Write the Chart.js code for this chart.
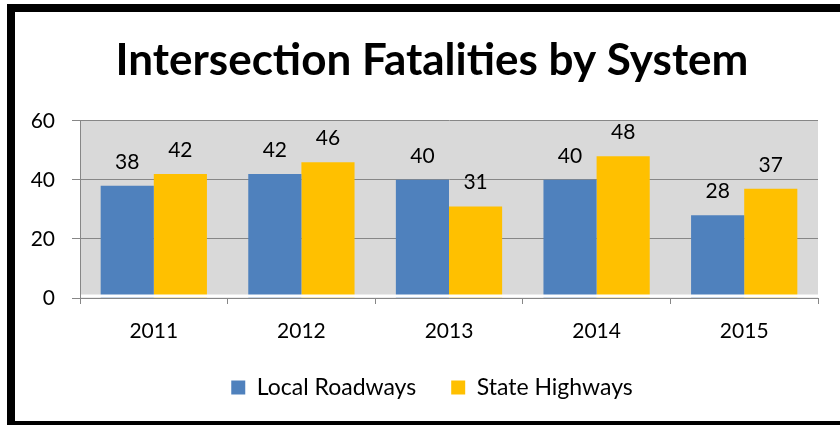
<!DOCTYPE html>
<html>
<head>
<meta charset="utf-8">
<script src="https://cdn.jsdelivr.net/npm/chart.js@4/dist/chart.umd.min.js"></script>
<style>
  html, body { margin: 0; padding: 0; background: #fff; }
  body { width: 840px; height: 425px; overflow: hidden; position: relative; }
  #frame {
    position: absolute; left: 7px; top: 4px;
    border: 8px solid #000; border-right: none;
    width: 834px; height: 409px;
  }
</style>
</head>
<body>
<div id="frame"><canvas id="chart" width="834" height="409"></canvas></div>
<script>
// data
const years = ['2011', '2012', '2013', '2014', '2015'];
const localRoadways = [38, 42, 40, 40, 28];
const stateHighways = [42, 46, 31, 48, 37];
const yTicks = [0, 20, 40, 60];

const FONT = 'Lato';

// grey plot background, with the thin white strip above the axis
const plotBg = {
  id: 'plotBg',
  beforeDraw(chart) {
    const { ctx, chartArea: a } = chart;
    ctx.save();
    ctx.fillStyle = '#d9d9d9';
    ctx.fillRect(a.left, a.top, a.right - a.left, a.bottom - a.top);
    ctx.restore();
  },
  afterDatasetsDraw(chart) {
    const { ctx, chartArea: a } = chart;
    ctx.save();
    ctx.fillStyle = '#fff';
    ctx.fillRect(a.left + 1, a.bottom - 3.5, a.right - a.left - 1, 3);
    ctx.restore();
  }
};

// value labels above each bar
const valueLabels = {
  id: 'valueLabels',
  afterDatasetsDraw(chart) {
    const { ctx } = chart;
    ctx.save();
    ctx.font = '21px ' + FONT;
    ctx.fillStyle = '#000';
    ctx.textAlign = 'center';
    ctx.textBaseline = 'alphabetic';
    chart.data.datasets.forEach((ds, i) => {
      chart.getDatasetMeta(i).data.forEach((bar, j) => {
        ctx.fillText(ds.data[j], bar.x, bar.y - 17);
      });
    });
    ctx.restore();
  }
};

new Chart(document.getElementById('chart'), {
  type: 'bar',
  data: {
    labels: years,
    datasets: [
      { label: 'Local Roadways', data: localRoadways, backgroundColor: '#4f81bd' },
      { label: 'State Highways', data: stateHighways, backgroundColor: '#ffc000' }
    ]
  },
  options: {
    responsive: false,
    animation: false,
    layout: { padding: { left: 0, right: 0, top: 0, bottom: 12 } },
    datasets: { bar: { categoryPercentage: 0.72, barPercentage: 1 } },
    scales: {
      x: {
        grid: { offset: true, drawOnChartArea: false, drawTicks: true, tickLength: 6, color: '#878787' },
        border: { color: '#878787' },
        ticks: { color: '#000', font: { family: FONT, size: 21 }, padding: 15 },
        afterFit: s => { s.height = 43; }
      },
      y: {
        min: 0, max: 60,
        afterBuildTicks: s => { s.ticks = yTicks.map(v => ({ value: v })); },
        grid: { color: '#878787', tickLength: 8 },
        border: { color: '#878787' },
        ticks: { color: '#000', font: { family: FONT, size: 21 }, padding: 17 },
        afterFit: s => { s.width = 65; }
      },
      y2: {
        position: 'right',
        grid: { display: false },
        border: { display: false },
        ticks: { display: false },
        afterFit: s => { s.width = 31; }
      }
    },
    plugins: {
      title: {
        display: true,
        text: 'Intersection Fatalities by System',
        color: '#000',
        font: { family: FONT, size: 44, weight: 'bold' },
        padding: { top: 22, bottom: 34 }
      },
      legend: {
        position: 'bottom',
        labels: {
          color: '#000',
          font: { family: FONT, size: 23 },
          boxWidth: 14, boxHeight: 14,
          padding: 35
        }
      },
      tooltip: { enabled: false }
    }
  },
  plugins: [plotBg, valueLabels]
});
</script>
</body>
</html>
